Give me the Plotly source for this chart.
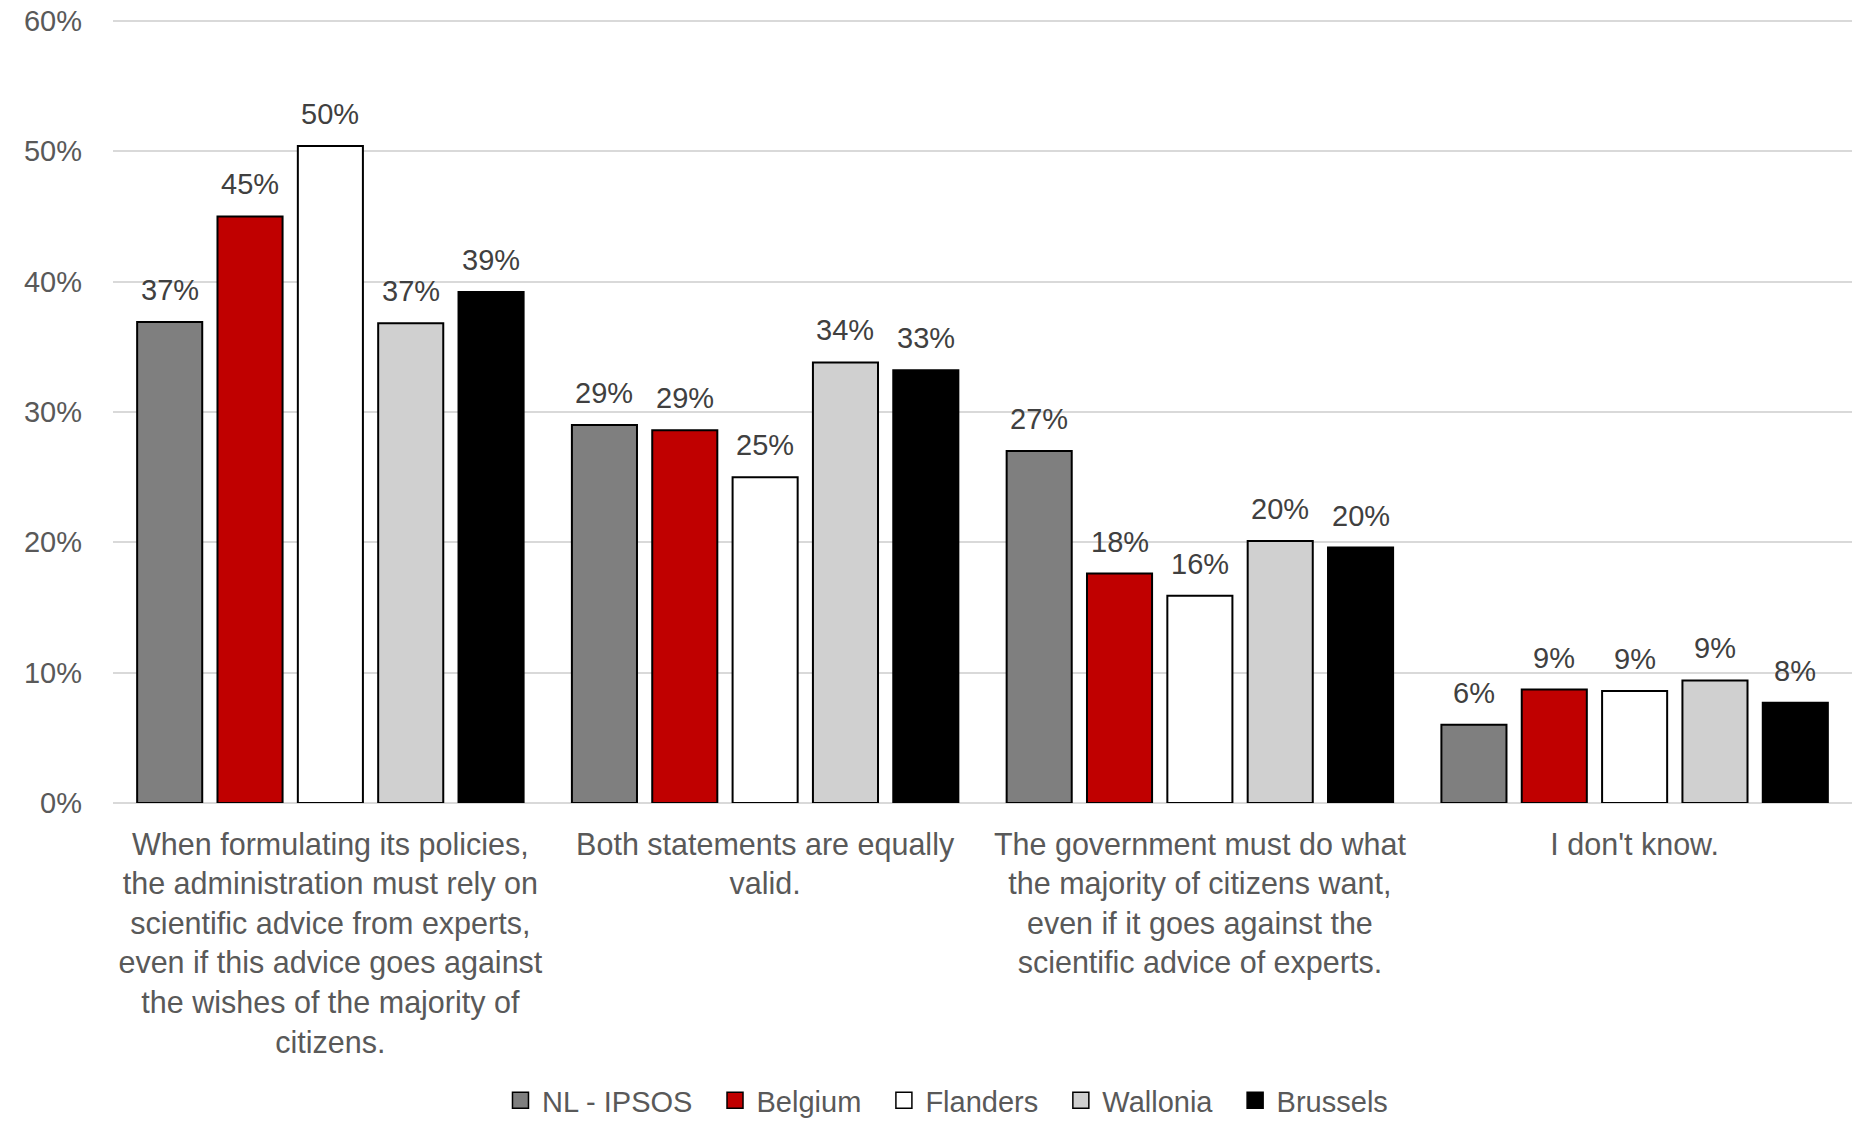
import plotly.graph_objects as go

categories = [
    "When formulating its policies,<br>the administration must rely on<br>scientific advice from experts,<br>even if this advice goes against<br>the wishes of the majority of<br>citizens.",
    "Both statements are equally<br>valid.",
    "The government must do what<br>the majority of citizens want,<br>even if it goes against the<br>scientific advice of experts.",
    "I don't know.",
]
series_names = ["NL - IPSOS", "Belgium", "Flanders", "Wallonia", "Brussels"]
nl_ipsos = [36.9, 29.0, 27.0, 6.0]
belgium = [45.0, 28.6, 17.6, 8.7]
flanders = [50.4, 25.0, 15.9, 8.6]
wallonia = [36.8, 33.8, 20.1, 9.4]
brussels = [39.2, 33.2, 19.6, 7.7]
series_values = [nl_ipsos, belgium, flanders, wallonia, brussels]
colors = ["#7F7F7F", "#C00000", "#FFFFFF", "#D0D0D0", "#000000"]
y_ticks = [0, 10, 20, 30, 40, 50, 60]
y_ticktext = [f"{t}%" for t in y_ticks]

FONT = "Liberation Sans, Arial, sans-serif"
BARGAP = 0.076
fig = go.Figure()
x_idx = list(range(len(categories)))
for name, vals, col in zip(series_names, series_values, colors):
    fig.add_trace(go.Bar(
        name=name, x=x_idx, y=vals, showlegend=False,
        marker=dict(color=col, line=dict(color="#000000", width=2)),
        hoverinfo="skip",
    ))
# legend entries (bigger square swatches)
n = len(series_names)
for k, (name, col) in enumerate(zip(series_names, colors)):
    pad = "\u00a0\u00a0" if k < n - 1 else ""
    fig.add_trace(go.Scatter(
        name=name + pad, x=[None], y=[None], mode="markers",
        marker=dict(symbol="square", size=17, color=col,
                    line=dict(color="#000000", width=1.5)),
        showlegend=True, hoverinfo="skip",
    ))

slot = (1 - BARGAP) / n
ann = []
for i, vals in enumerate(series_values):
    for c, v in enumerate(vals):
        ann.append(dict(
            x=c + (i - (n - 1) / 2) * slot, y=v,
            xref="x", yref="y", text=f"{v:.0f}%", showarrow=False,
            yanchor="middle", yshift=32,
            font=dict(family=FONT, size=29, color="#404040"),
        ))

fig.update_layout(
    width=1852, height=1126,
    margin=dict(l=113, r=0, t=19, b=320),
    paper_bgcolor="white", plot_bgcolor="white",
    barmode="group", bargap=BARGAP, bargroupgap=0.19,
    annotations=ann,
    showlegend=True,
    legend=dict(
        orientation="h", x=0.479, xanchor="center", y=-0.38, yanchor="middle",
        font=dict(family=FONT, size=29, color="#595959"),
        itemwidth=33,
        itemclick=False, itemdoubleclick=False,
    ),
    font=dict(family=FONT),
)
fig.update_xaxes(
    tickmode="array", tickvals=x_idx, ticktext=categories,
    range=[-0.5, len(categories) - 0.5],
    showgrid=False, showline=False, ticks="", zeroline=False,
    tickfont=dict(family=FONT, size=30.5, color="#595959"),
    ticklabelstandoff=20,
)
fig.update_yaxes(
    range=[0, 60.15], tickmode="array", tickvals=y_ticks, ticktext=y_ticktext,
    showgrid=True, gridcolor="#D9D9D9", gridwidth=1.5,
    zeroline=True, zerolinecolor="#D9D9D9", zerolinewidth=1.5,
    showline=False, ticks="",
    tickfont=dict(family=FONT, size=29, color="#595959"),
    ticklabelstandoff=30,
)
fig.write_html(
    "out.html",
    config={"displayModeBar": False},
    post_script="document.body.style.margin='0';document.body.style.padding='0';window.dispatchEvent(new Event('resize'));",
)
